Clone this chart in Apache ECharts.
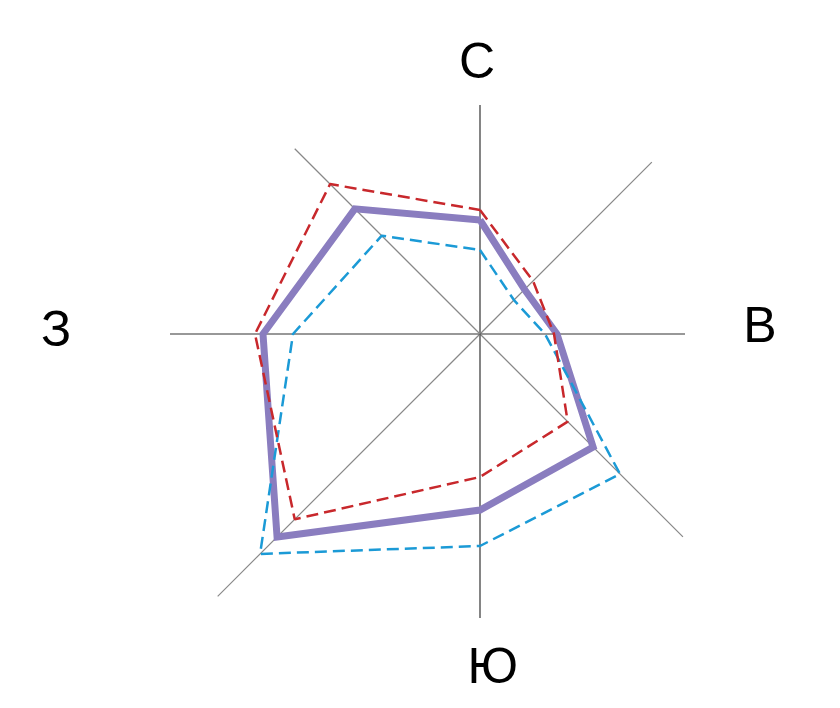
<!DOCTYPE html>
<html>
<head>
<meta charset="utf-8">
<script src="https://cdn.jsdelivr.net/npm/echarts@6/dist/echarts.min.js"></script>
<style>
html, body { margin: 0; padding: 0; background: #fff; }
#chart { width: 840px; height: 708px; }
</style>
</head>
<body>
<div id="chart"></div>
<script>
// румбы: С, СВ, В, ЮВ, Ю, ЮЗ, З, СЗ (угол по часовой от севера)
var directionAngles = [0, 45, 90, 135, 180, 225, 270, 315];
var spokeLengths = [22.9, 24.3, 20.5, 28.7, 28.4, 37.1, 31.0, 26.2];

var seriesRed = [12.4, 7.5, 7.4, 12.4, 14.3, 26.2, 22.5, 21.2];
var seriesPurple = [11.4, 6.3, 7.7, 16.0, 17.6, 28.7, 21.7, 17.7];
var seriesBlue = [8.4, 4.8, 6.5, 19.8, 21.2, 31.1, 18.7, 13.9];

// подписи сторон света
var labelTexts = ['С', 'В', 'Ю', 'З'];
var labelRadius = [27.0, 28.0, 33.5, 42.4];
var labelAngles = [359.4, 88.9, 177.8, 270.2];

//замкнутый контур для полярной системы
function toPolar(values) {
    var out = [];
    for (var i = 0; i < values.length; i++) {
        out.push([values[i], directionAngles[i]]);
    }
    out.push([values[0], directionAngles[0]]);
    return out;
}

function spokeSeries() {
    var list = [];
    for (var i = 0; i < directionAngles.length; i++) {
        var main = directionAngles[i] % 90 == 0;
        list.push({
            type: 'line',
            coordinateSystem: 'polar',
            symbol: 'none',
            silent: true,
            data: [[0, directionAngles[i]], [spokeLengths[i], directionAngles[i]]],
            lineStyle: { color: main ? '#333' : '#888', width: 1.2 }
        });
    }
    return list;
}

var labelData = [];
for (var i = 0; i < labelTexts.length; i++) {
    labelData.push({ value: [labelRadius[i], labelAngles[i]], name: labelTexts[i] });
}

var series = spokeSeries();
series.push({
    type: 'line',
    coordinateSystem: 'polar',
    symbol: 'none',
    data: toPolar(seriesPurple),
    lineStyle: { color: '#8a7dbf', width: 7, join: 'miter' }
});
series.push({
    type: 'line',
    coordinateSystem: 'polar',
    symbol: 'none',
    data: toPolar(seriesBlue),
    lineStyle: { color: '#1b9ad6', width: 2.5, type: [12, 6] }
});
series.push({
    type: 'line',
    coordinateSystem: 'polar',
    symbol: 'none',
    data: toPolar(seriesRed),
    lineStyle: { color: '#c8282c', width: 2.5, type: [12, 6] }
});
series.push({
    type: 'scatter',
    coordinateSystem: 'polar',
    symbolSize: 1,
    silent: true,
    itemStyle: { color: '#fff', opacity: 0 },
    data: labelData,
    label: {
        show: true,
        position: 'inside',
        formatter: '{b}',
        color: '#000',
        opacity: 1,
        textBorderWidth: 0,
        fontFamily: 'Liberation Sans',
        fontSize: 50
    }
});

var chart = echarts.init(document.getElementById('chart'));
chart.setOption({
    animation: false,
    backgroundColor: '#fff',
    polar: { center: [480, 334], radius: 450 },
    angleAxis: {
        type: 'value', min: 0, max: 360, startAngle: 90, clockwise: true,
        axisLine: { show: false }, axisTick: { show: false },
        axisLabel: { show: false }, splitLine: { show: false }
    },
    radiusAxis: {
        type: 'value', min: 0, max: 45,
        axisLine: { show: false }, axisTick: { show: false },
        axisLabel: { show: false }, splitLine: { show: false }
    },
    series: series
});
</script>
</body>
</html>
